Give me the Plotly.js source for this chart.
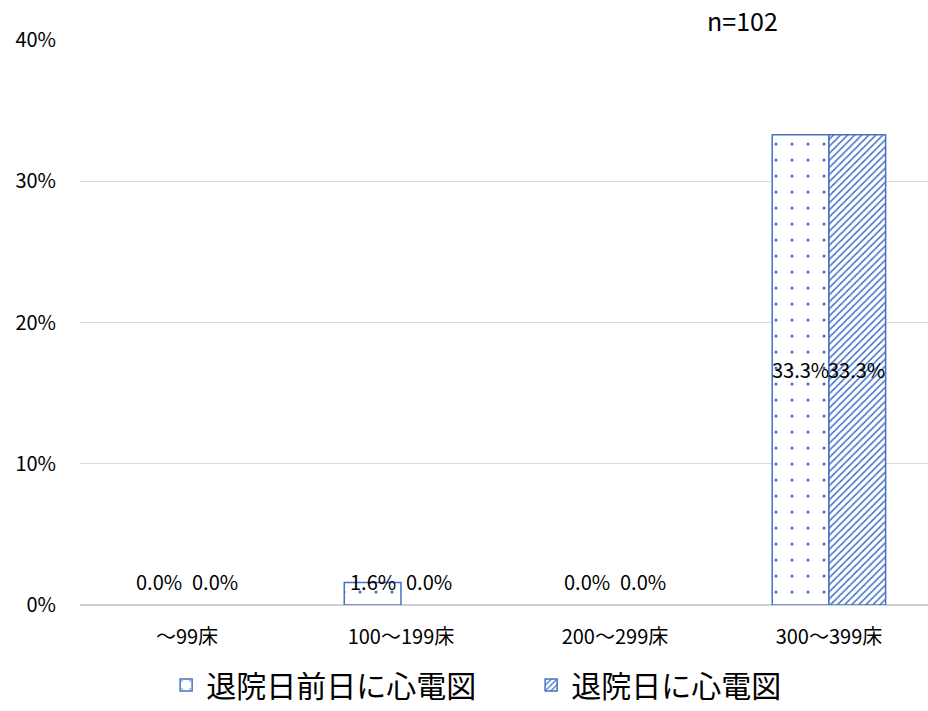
<!DOCTYPE html>
<html><head><meta charset="utf-8">
<script src="https://cdn.plot.ly/plotly-3.0.1.min.js"></script>
<style>body{margin:0;background:#fff}#chart{width:928px;height:711px}</style>
</head><body><div id="chart"></div>
<script>
const categories = ["〜99床", "100〜199床", "200〜299床", "300〜399床"];
const seriesNames = ["退院日前日に心電図", "退院日に心電図"];
const seriesA = [0.0, 0.016, 0.0, 0.333];
const seriesB = [0.0, 0.0, 0.0, 0.333];
const yTickVals = [0, 0.1, 0.2, 0.3, 0.4];
const yTickText = ["0%", "10%", "20%", "30%", "40%"];
const sampleNote = "n=102";

const blue = "#4472C4";
const font = "Noto Sans CJK JP, Noto Sans, sans-serif";
const xIdx = categories.map((_, i) => i);

function mkTrace(name, vals, shape, size, sol) {
  return {
    type: "bar", name: name, x: xIdx, y: vals.map(v => v === 0 ? null : v),
    marker: {color: "#ffffff", line: {color: blue, width: 1.5},
      pattern: {shape: shape, fgcolor: blue, bgcolor: "#ffffff", size: size, solidity: sol}},
    hoverinfo: "none"
  };
}
const traces = [
  mkTrace(seriesNames[0], seriesA, ".", 16, 0.03),
  mkTrace(seriesNames[1], seriesB, "/", 5, 0.3)
];

const annotations = [];
[seriesA, seriesB].forEach((vals, s) => {
  vals.forEach((v, i) => {
    const big = v > 0.05;
    annotations.push({
      x: i, y: big ? v / 2 : 0, xref: "x", yref: "y",
      xshift: s === 0 ? -28 : 28, yshift: big ? 0 : 24,
      text: (v * 100).toFixed(1) + "%", showarrow: false,
      font: {family: font, size: 20, color: "#000"}, yanchor: "middle"
    });
  });
});
annotations.push({xref: "paper", yref: "paper", x: 0.781, xanchor: "center", y: 1.0, yshift: 20, text: sampleNote,
  showarrow: false, font: {family: font, size: 25, color: "#000"}, yanchor: "middle"});

const layout = {
  width: 928, height: 711,
  margin: {l: 80, r: 0, t: 40, b: 106},
  paper_bgcolor: "#fff", plot_bgcolor: "#fff",
  barmode: "group", bargap: 0.47, bargroupgap: 0,
  font: {family: font, size: 20, color: "#000"},
  xaxis: {tickvals: xIdx, ticktext: categories, range: [-0.5, 3.463], showgrid: false,
    zeroline: false, showline: false, ticks: "", ticklabelstandoff: 18,
    tickfont: {size: 20, family: font}, fixedrange: true},
  yaxis: {range: [0, 0.4], tickvals: yTickVals, ticktext: yTickText, showgrid: true,
    gridcolor: "#d9d9d9", gridwidth: 1.3, zeroline: true, zerolinecolor: "#d0d0d0", zerolinewidth: 1.5,
    showline: false, ticklabelstandoff: 23, tickfont: {size: 20, family: font}, fixedrange: true},
  showlegend: true,
  legend: {orientation: "h", x: 0.532, xanchor: "center", y: -0.1876, yanchor: "bottom",
    font: {size: 30, family: font}, itemwidth: 30, entrywidth: 320, entrywidthmode: "pixels"},
  annotations: annotations
};
Plotly.newPlot("chart", traces, layout, {displayModeBar: false, staticPlot: true});
</script></body></html>
